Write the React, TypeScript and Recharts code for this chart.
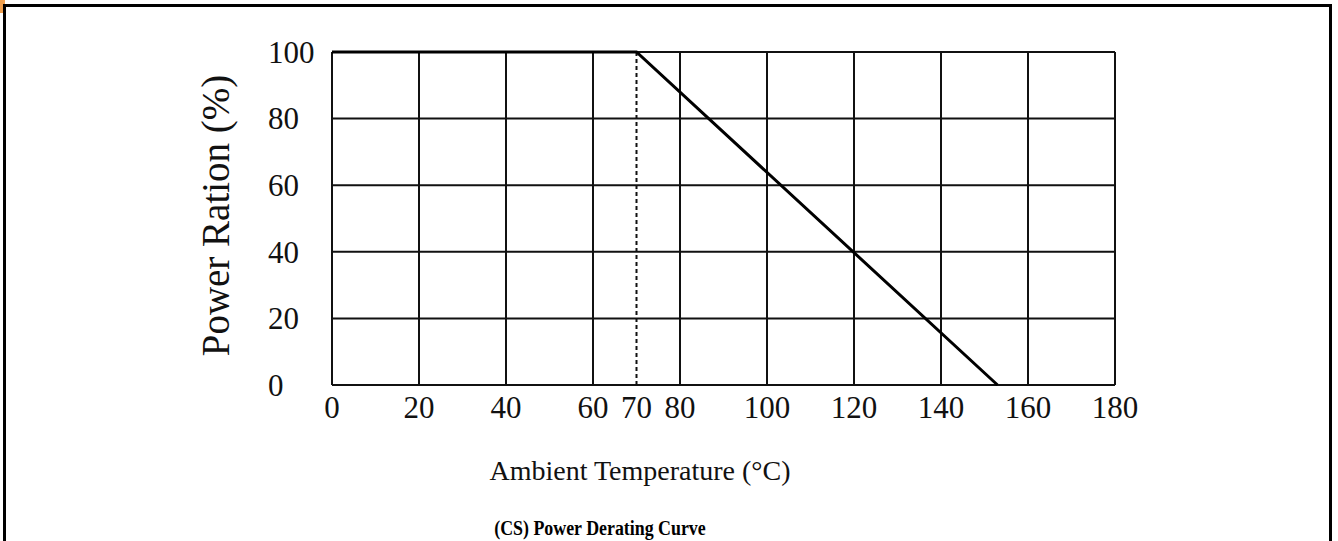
import React from 'react';
import { LineChart, Line, XAxis, YAxis, ReferenceLine } from 'recharts';

// derating curve: full power up to 70 °C, then linear down to zero
const temperature = [0, 70, 153];
const powerRatio = [100, 100, 0];

const xTicks = [0, 20, 40, 60, 70, 80, 100, 120, 140, 160, 180];
const yTicks = [0, 20, 40, 60, 80, 100];
const gridX = [0, 20, 40, 60, 80, 100, 120, 140, 160, 180];
const kneeTemp = 70;

const data = temperature.map((t, i) => ({ t, p: powerRatio[i] }));

const FONT = '"Liberation Serif", "Times New Roman", serif';

const YTick: React.FC<any> = ({ x, y, payload }) => (
  <text x={x - 64} y={y} dy="0.35em" textAnchor="start" fontFamily={FONT} fontSize={31} fill="#111">
    {payload.value}
  </text>
);

const YLabel: React.FC<any> = ({ viewBox }) => {
  const cx = viewBox.x + 35;
  const cy = viewBox.y + viewBox.height / 2 - 3;
  return (
    <text
      x={cx}
      y={cy}
      transform={`rotate(-90, ${cx}, ${cy})`}
      textAnchor="middle"
      dominantBaseline="central"
      fontFamily={FONT}
      fontSize={39}
      fill="#111"
    >
      Power Ration (%)
    </text>
  );
};

const XLabel: React.FC<any> = ({ viewBox }) => (
  <text
    x={viewBox.x + 308}
    y={viewBox.y + 95}
    textAnchor="middle"
    fontFamily={FONT}
    fontSize={28}
    fill="#111"
  >
    Ambient Temperature (°C)
  </text>
);

const App: React.FC = () => {
  return (
    <div style={{ position: 'absolute', left: 0, top: 0, width: 1338, height: 541, overflow: 'hidden', background: '#fff' }}>
      <div style={{ position: 'absolute', left: 0, top: 0, width: 5, height: 13, background: '#f0a050' }} />
      <div
        style={{
          position: 'absolute', left: 3, top: 4, width: 1329, height: 700,
          boxSizing: 'border-box', border: '3px solid #000',
        }}
      />
      <div style={{ position: 'absolute', left: 0, top: 0 }}>
        <LineChart width={1338} height={541} data={data} margin={{ top: 52, right: 223, left: 180, bottom: 56 }}>
          <XAxis
            dataKey="t"
            type="number"
            domain={[0, 180]}
            ticks={xTicks}
            interval={0}
            axisLine={false}
            tickLine={false}
            tickSize={0}
            tickMargin={11}
            height={100}
            tick={{ fontFamily: FONT, fontSize: 31, fill: '#111' }}
            label={<XLabel />}
          />
          <YAxis
            type="number"
            domain={[0, 100]}
            ticks={yTicks}
            interval={0}
            axisLine={false}
            tickLine={false}
            tickSize={0}
            tickMargin={0}
            width={152}
            tick={<YTick />}
            label={<YLabel />}
          />
          {yTicks.map((v) => (
            <ReferenceLine key={`h-${v}`} y={v} stroke="#111" strokeWidth={2} />
          ))}
          {gridX.map((v) => (
            <ReferenceLine key={`v-${v}`} x={v} stroke="#111" strokeWidth={2} />
          ))}
          <ReferenceLine x={kneeTemp} stroke="#111" strokeWidth={2} strokeDasharray="4 3" />
          <Line
            type="linear"
            dataKey="p"
            stroke="#000"
            strokeWidth={3}
            dot={false}
            isAnimationActive={false}
          />
        </LineChart>
      </div>
      <div
        style={{
          position: 'absolute', left: 0, width: 1200, top: 517, textAlign: 'center',
          fontFamily: FONT, fontWeight: 'bold', fontSize: 19, color: '#000', lineHeight: '22px',
          transform: 'scale(0.94, 1.12)', transformOrigin: '600px 11px',
        }}
      >
        (CS) Power Derating Curve
      </div>
    </div>
  );
};

export default App;
